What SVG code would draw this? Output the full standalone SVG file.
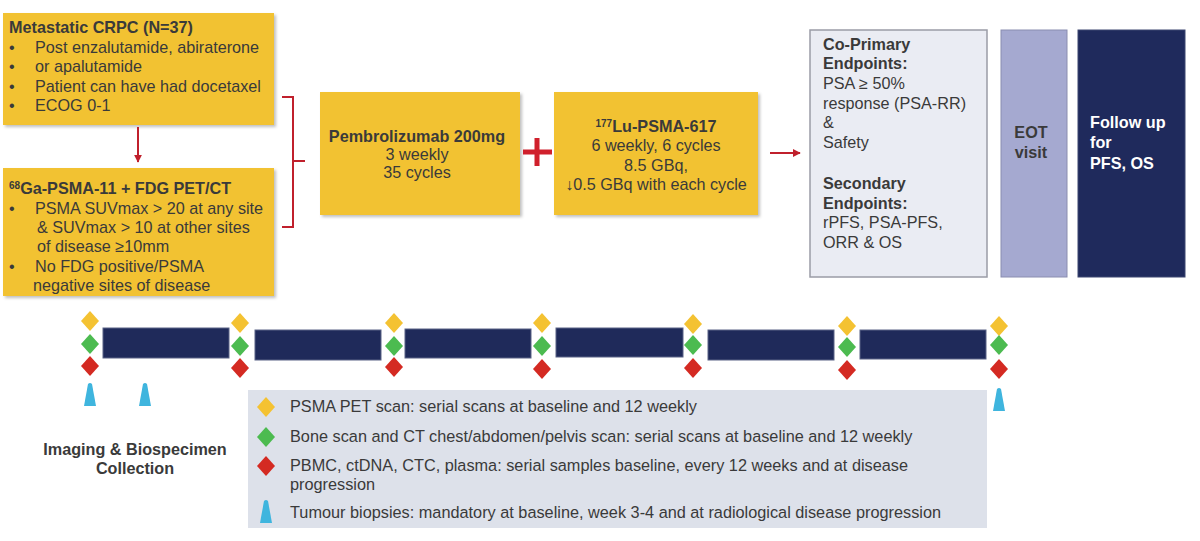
<svg xmlns="http://www.w3.org/2000/svg" width="1200" height="541" viewBox="0 0 1200 541">
<defs>
<style>
.t{font-family:"Liberation Sans",Arial,sans-serif;font-size:16.2px;fill:#3a3a3a}
.b{font-weight:bold}
.c{text-anchor:middle}
.yb{fill:#f2c232;filter:url(#sh)}
.bar{fill:#1f2a5a;stroke:#5a6386;stroke-width:1}
.cn{stroke:#c0202c;fill:none;stroke-width:2}
.lg{font-family:"Liberation Sans",Arial,sans-serif;font-size:16.3px;fill:#3a3a3a}
.w{fill:#ffffff}
</style>
<filter id="sh" x="-5%" y="-5%" width="112%" height="115%">
<feDropShadow dx="2" dy="2" stdDeviation="1.5" flood-color="#000" flood-opacity="0.25"/>
</filter>
<polygon id="dia" points="0,-10 9,0 0,10 -9,0"/>
<path id="tri" d="M-2,-11 Q0,-13 2,-11 L6,11 L-6,11 Z"/>
<marker id="ah" viewBox="0 0 10 10" refX="9" refY="5" markerWidth="4" markerHeight="4" orient="auto">
<path d="M0,0 L10,5 L0,10 Z" fill="#c0202c"/>
</marker>
</defs>
<rect width="1200" height="541" fill="#ffffff"/>

<g id="eligibility">
<rect class="yb" x="3" y="13" width="271" height="112"/>
<text class="t b" x="9" y="33" font-size="16.5">Metastatic CRPC (N=37)</text>
<text class="t" x="9" y="53">•</text><text class="t" x="35" y="53">Post enzalutamide, abiraterone</text>
<text class="t" x="9" y="72">•</text><text class="t" x="35" y="72">or apalutamide</text>
<text class="t" x="9" y="92">•</text><text class="t" x="35" y="92">Patient can have had docetaxel</text>
<text class="t" x="9" y="111">•</text><text class="t" x="35" y="111">ECOG 0-1</text>
</g>

<g id="screening">
<rect class="yb" x="3" y="168" width="271" height="128"/>
<text class="t b" x="9" y="194" font-size="16.5"><tspan font-size="10" dy="-5">68</tspan><tspan dy="5">Ga-PSMA-11 + FDG PET/CT</tspan></text>
<text class="t" x="9" y="214">•</text><text class="t" x="35" y="214">PSMA SUVmax &gt; 20 at any site</text>
<text class="t" x="37" y="233">&amp; SUVmax &gt; 10 at other sites</text>
<text class="t" x="37" y="252">of disease ≥10mm</text>
<text class="t" x="9" y="272">•</text><text class="t" x="35" y="272">No FDG positive/PSMA</text>
<text class="t" x="33" y="291">negative sites of disease</text>
</g>

<g id="pembrolizumab">
<rect class="yb" x="320" y="92" width="200" height="123"/>
<text class="t b c" x="417" y="142">Pembrolizumab 200mg</text>
<text class="t c" x="417" y="160">3 weekly</text>
<text class="t c" x="417" y="178">35 cycles</text>
</g>

<g id="lutetium">
<rect class="yb" x="554" y="92" width="204" height="123"/>
<text class="t b c" x="656" y="132" font-size="16.6"><tspan font-size="10" dy="-5">177</tspan><tspan dy="5">Lu-PSMA-617</tspan></text>
<text class="t c" x="656" y="151" font-size="16.8">6 weekly, 6 cycles</text>
<text class="t c" x="656" y="171" font-size="16.8">8.5 GBq,</text>
<text class="t c" x="656" y="190" font-size="16.8">↓0.5 GBq with each cycle</text>
</g>

<g id="endpoints">
<rect x="810" y="30" width="177" height="247" fill="#eaecf3" stroke="#9a9ca6" stroke-width="1.5"/>
<text class="t b" x="823" y="50" font-size="16.3">Co-Primary</text>
<text class="t b" x="823" y="69" font-size="16.3">Endpoints:</text>
<text class="t" x="823" y="89" font-size="16.5">PSA ≥ 50%</text>
<text class="t" x="823" y="109" font-size="16.5">response (PSA-RR)</text>
<text class="t" x="823" y="128" font-size="16.5">&amp;</text>
<text class="t" x="823" y="148" font-size="16.5">Safety</text>
<text class="t b" x="823" y="189" font-size="16.3">Secondary</text>
<text class="t b" x="823" y="209" font-size="16.3">Endpoints:</text>
<text class="t" x="823" y="228" font-size="16.5">rPFS, PSA-PFS,</text>
<text class="t" x="823" y="248" font-size="16.5">ORR &amp; OS</text>
</g>

<g id="eot">
<rect x="1001" y="30" width="66" height="247" fill="#a5a9d0" stroke="#8a8db0" stroke-width="1"/>
<text class="t b c" x="1031" y="138" font-size="16.5">EOT</text>
<text class="t b c" x="1031" y="158" font-size="16.5">visit</text>
</g>

<g id="followup">
<rect x="1078" y="30" width="107" height="247" fill="#1f2a5c" stroke="#3c4670" stroke-width="1"/>
<text class="t b w" x="1090" y="128" font-size="16.3">Follow up</text>
<text class="t b w" x="1090" y="148" font-size="16.3">for</text>
<text class="t b w" x="1090" y="169" font-size="16.3">PFS, OS</text>
</g>

<g id="connectors">
<line class="cn" x1="138" y1="127" x2="138" y2="162" marker-end="url(#ah)"/>
<path class="cn" d="M282,97 H293 V227 H282 M293,161 H305"/>
<path d="M523,152 H552 M537,138 V166" stroke="#d0202c" stroke-width="5" fill="none"/>
<line class="cn" x1="770" y1="153" x2="800" y2="153" marker-end="url(#ah)"/>
</g>

<g id="timeline">
<rect class="bar" x="103" y="328" width="126" height="30"/>
<rect class="bar" x="255" y="330" width="126" height="30"/>
<rect class="bar" x="405" y="329" width="126" height="29"/>
<rect class="bar" x="556" y="328" width="127" height="29"/>
<rect class="bar" x="708" y="330" width="126" height="30"/>
<rect class="bar" x="860" y="330" width="126" height="29"/>
<g fill="#f4c232"><use href="#dia" x="90" y="321"/><use href="#dia" x="240" y="323"/><use href="#dia" x="394" y="323"/><use href="#dia" x="542" y="323"/><use href="#dia" x="693" y="324"/><use href="#dia" x="847" y="326"/><use href="#dia" x="999" y="326"/></g>
<g fill="#4cbb50"><use href="#dia" x="90" y="344"/><use href="#dia" x="240" y="346"/><use href="#dia" x="394" y="346"/><use href="#dia" x="542" y="346"/><use href="#dia" x="693" y="345"/><use href="#dia" x="847" y="347"/><use href="#dia" x="999" y="345"/></g>
<g fill="#d42a22"><use href="#dia" x="90" y="366"/><use href="#dia" x="240" y="368"/><use href="#dia" x="394" y="367"/><use href="#dia" x="542" y="369"/><use href="#dia" x="693" y="368"/><use href="#dia" x="847" y="370"/><use href="#dia" x="999" y="369"/></g>
<g fill="#3fb5de"><use href="#tri" x="90" y="395"/><use href="#tri" x="145" y="395"/><use href="#tri" x="999" y="400"/></g>
</g>

<g id="imaging-label">
<text class="t b c" x="135" y="455" font-size="15.2">Imaging &amp; Biospecimen</text>
<text class="t b c" x="135" y="474" font-size="15.2">Collection</text>
</g>

<g id="legend">
<rect x="248" y="390" width="739" height="138" fill="#dde1ea"/>
<use href="#dia" x="266" y="407" fill="#f4c232"/>
<text class="lg" x="290" y="412">PSMA PET scan: serial scans at baseline and 12 weekly</text>
<use href="#dia" x="266" y="437" fill="#4cbb50"/>
<text class="lg" x="290" y="442">Bone scan and CT chest/abdomen/pelvis scan: serial scans at baseline and 12 weekly</text>
<use href="#dia" x="266" y="466" fill="#d42a22"/>
<text class="lg" x="290" y="471">PBMC, ctDNA, CTC, plasma: serial  samples baseline, every 12 weeks and at disease</text>
<text class="lg" x="290" y="490">progression</text>
<use href="#tri" x="266" y="512" fill="#3fb5de"/>
<text class="lg" x="290" y="518">Tumour biopsies: mandatory at baseline, week 3-4 and at radiological disease progression</text>
</g>
</svg>
